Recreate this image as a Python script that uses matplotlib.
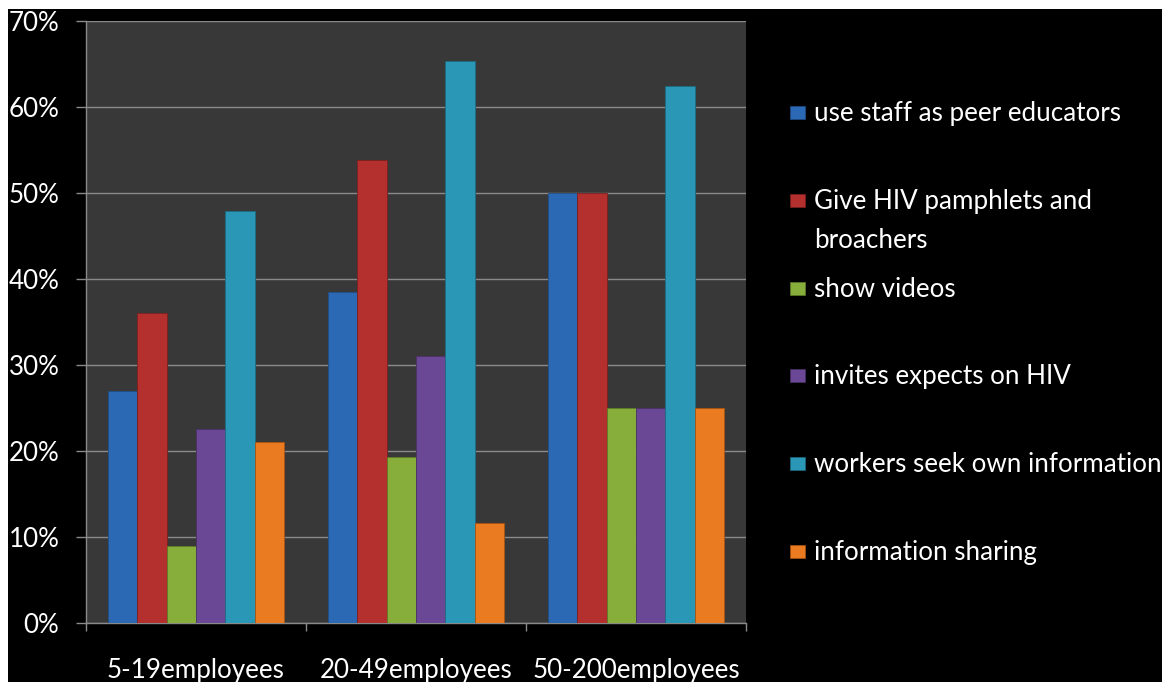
import matplotlib
matplotlib.use("Agg")
import matplotlib.pyplot as plt
from matplotlib.patches import Rectangle
from matplotlib.ticker import FuncFormatter, FixedLocator
import numpy as np

categories = ["5-19employees", "20-49employees", "50-200employees"]
series_names = [
    "use staff as peer educators",
    "Give HIV pamphlets and\nbroachers",
    "show videos",
    "invites expects on HIV",
    "workers seek own information",
    "information sharing",
]
staff_peer = [27.0, 38.5, 50.0]
pamphlets = [36.0, 53.8, 50.0]
videos = [9.0, 19.3, 25.0]
experts = [22.6, 31.0, 25.0]
own_info = [47.9, 65.4, 62.5]
sharing = [21.0, 11.6, 25.0]
y_ticks = [0, 10, 20, 30, 40, 50, 60, 70]

series_values = [staff_peer, pamphlets, videos, experts, own_info, sharing]
colors = ["#2c69b4", "#b3302e", "#87ad3a", "#6a4896", "#2a97b6", "#ea7b20"]
edge_colors = ["#1f4f8a", "#7e1f1e", "#5f7d26", "#4a3169", "#1c6c84", "#a9550f"]

FONT = "Lato"
FS = 18.7
W, H = 1175, 682
fig = plt.figure(figsize=(W / 100, H / 100), dpi=100, facecolor="white")
# black slide background
fig.add_artist(Rectangle((8 / W, 0), (1162 - 8) / W, 1 - 9 / H,
                         transform=fig.transFigure, facecolor="black",
                         edgecolor="none", zorder=0))

ax = fig.add_axes([86 / W, (H - 623) / H, (746 - 86) / W, (623 - 21) / H])
ax.set_facecolor("#383838")
ax.set_zorder(1)

n = len(series_values)
group_w = 0.8
bw = group_w / n
x = np.arange(len(categories)) + 0.5
for i, vals in enumerate(series_values):
    ax.bar(x + (i - (n - 1) / 2) * bw, vals, width=bw, color=colors[i],
           edgecolor=edge_colors[i], linewidth=0.6, zorder=3)

ax.set_xlim(0, len(categories))
ax.set_ylim(0, 70)
ax.yaxis.set_major_locator(FixedLocator(y_ticks))
ax.yaxis.set_major_formatter(FuncFormatter(lambda v, p: f"{v:.0f}%"))
ax.grid(axis="y", color="#8a8a8a", linewidth=1.0, zorder=1)
ax.set_axisbelow(True)

for s in ["top", "right"]:
    ax.spines[s].set_visible(False)
for s in ["left", "bottom"]:
    ax.spines[s].set_color("#8a8a8a")
    ax.spines[s].set_linewidth(1.0)

ax.tick_params(axis="y", direction="out", length=7.2, width=1.0,
               color="#8a8a8a", pad=12, labelcolor="white",
               labelsize=FS)
ax.set_xticks(x)
ax.set_xticklabels(categories)
ax.xaxis.set_minor_locator(FixedLocator(list(range(len(categories) + 1))))
ax.tick_params(axis="x", which="major", length=0, pad=25,
               labelcolor="white", labelsize=FS)
ax.tick_params(axis="x", which="minor", direction="out", length=5.8,
               width=1.0, color="#8a8a8a")
for lab in ax.get_xticklabels() + ax.get_yticklabels():
    lab.set_fontfamily(FONT)

# legend (manual, to match slide layout)
base0, step, line_gap = 121, 87.8, 39
for i, name in enumerate(series_names):
    by = base0 + i * step
    fig.add_artist(Rectangle((790 / W, (H - (by - 2)) / H), 15 / W, 13 / H,
                             transform=fig.transFigure, facecolor=colors[i],
                             edgecolor=edge_colors[i], linewidth=0.5,
                             zorder=2))
    for k, line in enumerate(name.split("\n")):
        fig.text(814 / W, (H - by - k * line_gap) / H, line, color="white",
                 fontsize=FS, family=FONT, va="baseline", ha="left",
                 zorder=2)

fig.savefig("out.png", dpi=100, facecolor="white")
